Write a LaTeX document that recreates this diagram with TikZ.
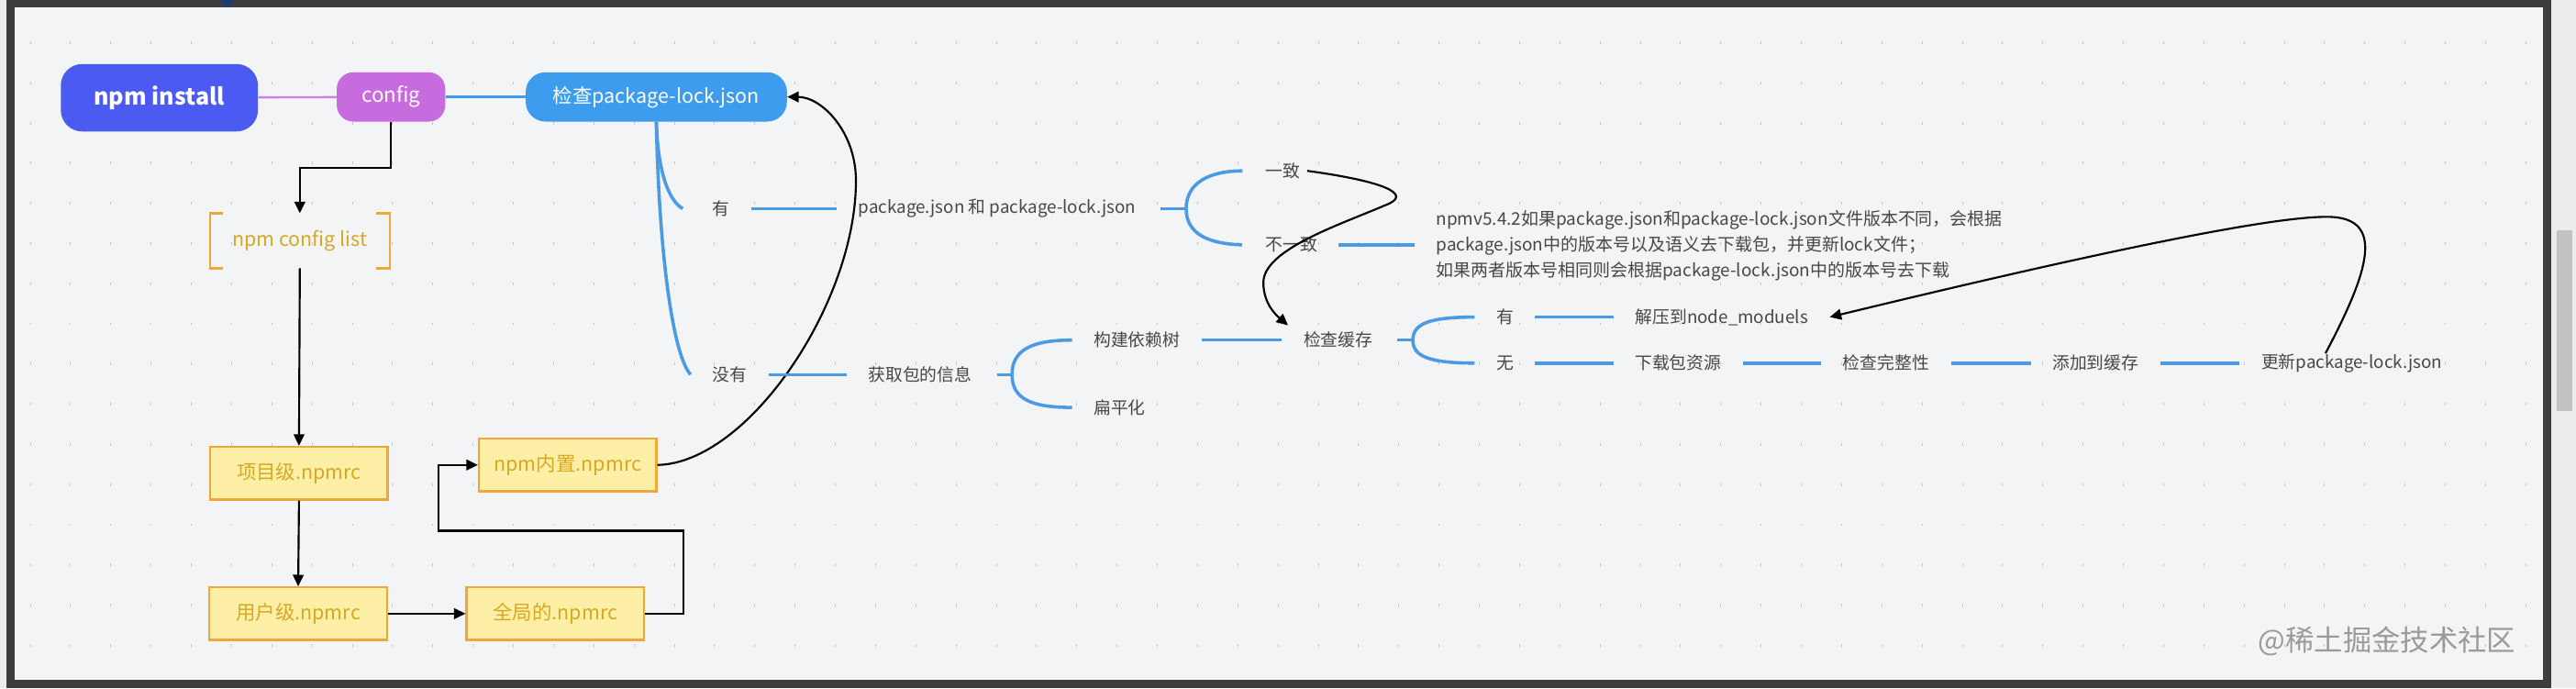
\documentclass[tikz,border=0pt]{standalone}
\usepackage{fontspec}
\setmainfont{Noto Sans CJK SC}
\usetikzlibrary{arrows.meta,calc}
\definecolor{bg}{HTML}{F3F4F6}
\definecolor{framec}{HTML}{3D3D3F}
\definecolor{outer}{HTML}{ECECEC}
\definecolor{npmblue}{HTML}{4B5BF1}
\definecolor{cfgpurple}{HTML}{C76BDE}
\definecolor{chkblue}{HTML}{3D9CEE}
\definecolor{lineblue}{HTML}{4C9BE2}
\definecolor{yfill}{HTML}{FDF0A6}
\definecolor{yborder}{HTML}{EFA73A}
\definecolor{ytext}{HTML}{D8A823}
\definecolor{txtgrey}{HTML}{474747}
\definecolor{dotgrey}{HTML}{C4C5C8}
\definecolor{thumbc}{HTML}{C2C2C2}
\definecolor{wmc}{HTML}{9A9A9A}
\definecolor{navyc}{HTML}{1F3A6E}
\tikzset{
  gtext/.style={text=txtgrey, font=\fontsize{10.5}{12}\selectfont, inner sep=0pt},
  bline/.style={draw=lineblue, line width=2pt, shorten <=13pt, shorten >=13pt},
  bcurve/.style={draw=lineblue, line width=2pt},
  ybox/.style={draw=yborder, fill=yfill, line width=1.3pt, minimum width=108pt, minimum height=32pt, text=ytext, font=\fontsize{12}{14}\selectfont, inner sep=0pt},
  conn/.style={draw=black, line width=1.2pt, -{Triangle[length=7pt,width=6.5pt]}},
  pill/.style={text=white, inner sep=0pt},
}
\begin{document}
\begin{tikzpicture}[x=1pt,y=-1pt]
\useasboundingbox (0,0) rectangle (1568,419);
% screenshot frame
\fill[outer] (0,0) rectangle (1568,419);
\fill[framec] (4,0) rectangle (1553,419);
\fill[bg] (9,4.5) rectangle (1548,413.5);
\fill[thumbc] (1556,140) rectangle (1566,250);
\fill[navyc] (138,0) circle (4);
% dot grid
\foreach \i in {0,...,62} {
  \foreach \j in {0,...,15} {
    \draw[dotgrey, line width=0.5pt] ({18.4+24.5*\i},{25.2+24.45*\j}) -- ++(0,1.6);
  }
}
% top row boxes
\node[pill, fill=npmblue, rounded corners=13pt, minimum width=120pt, minimum height=41pt, font=\fontsize{14}{17}\selectfont\bfseries] (install) at (97,59.5) {npm install};
\node[pill, fill=cfgpurple, rounded corners=10pt, minimum width=66pt, minimum height=30pt, font=\fontsize{12.5}{15}\selectfont] (config) at (238,59) {config};
\node[pill, fill=chkblue, rounded corners=12pt, minimum width=159pt, minimum height=30pt, font=\fontsize{12}{14}\selectfont] (check) at (399.5,59) {检查package-lock.json};
\draw[draw=cfgpurple!85!white, line width=1.3pt] (install) -- (config);
\draw[draw=chkblue, line width=1.6pt] (config) -- (check);

% npm config list bracket node
\node[text=ytext, font=\fontsize{12}{14}\selectfont, minimum width=109pt, minimum height=33pt, inner sep=0pt] (cfglist) at (182.5,146.5) {npm config list};
\draw[draw=yborder, line width=1.4pt] ([xshift=8pt]cfglist.north west) -- (cfglist.north west) -- (cfglist.south west) -- ([xshift=8pt]cfglist.south west);
\draw[draw=yborder, line width=1.4pt] ([xshift=-8pt]cfglist.north east) -- (cfglist.north east) -- (cfglist.south east) -- ([xshift=-8pt]cfglist.south east);

% npmrc boxes
\node[ybox] (proj) at (182,288) {项目级.npmrc};
\node[ybox] (user) at (181.5,373.5) {用户级.npmrc};
\node[ybox] (global) at (338,373.5) {全局的.npmrc};
\node[ybox] (builtin) at (345.5,283) {npm内置.npmrc};

% black connectors on the left
\coordinate (k1) at (238,102);
\draw[conn] (config.south) -- (k1) -| (cfglist.north);
\draw[conn] (cfglist.south) -- (proj.north);
\draw[conn] (proj.south) -- (user.north);
\draw[conn] (user.east) -- (global.west);
\coordinate (g1) at (416,373.5);
\coordinate (g2) at (416,323);
\coordinate (g3) at (267,323);
\coordinate (g4) at (267,283);
\draw[conn] (global.east) -- (g1) -- (g2) -- (g3) -- (g4) -- (builtin.west);
\draw[conn] (builtin.east) .. controls (455,282) and (521,185) .. (521,110) .. controls (521,80) and (500,59) .. (check.east);

% mind map text
\node[gtext] (you1) at (439,127) {有};
\node[gtext] (pkgboth) at (607,127) {package.json 和 package-lock.json};
\node[gtext] (yizhi) at (781,104) {一致};
\node[gtext] (buyizhi) at (786,149) {不一致};
\node[gtext, anchor=west, align=left, font=\fontsize{10.6}{15.5}\selectfont] (note) at (874,149.5) {npmv5.4.2如果package.json和package-lock.json文件版本不同，会根据\\package.json中的版本号以及语义去下载包，并更新lock文件；\\如果两者版本号相同则会根据package-lock.json中的版本号去下载};
\node[gtext] (meiyou) at (444,228) {没有};
\node[gtext] (getinfo) at (560,228) {获取包的信息};
\node[gtext] (buildtree) at (692,207) {构建依赖树};
\node[gtext] (flatten) at (681.5,248) {扁平化};
\node[gtext] (checkcache) at (814.5,207) {检查缓存};
\node[gtext] (you2) at (916,193) {有};
\node[gtext] (unzip) at (1048,193) {解压到node\_moduels};
\node[gtext] (wu) at (916,221) {无};
\node[gtext] (download) at (1021.5,221) {下载包资源};
\node[gtext] (integrity) at (1148,221) {检查完整性};
\node[gtext] (addcache) at (1275.5,221) {添加到缓存};
\node[gtext] (update) at (1431.5,221) {更新package-lock.json};
\node[text=wmc, font=\fontsize{17.5}{20}\selectfont, inner sep=0pt] (wm) at (1453,390) {@稀土掘金技术社区};

% blue straight links
\draw[bline] (you1) -- (pkgboth);
\draw[bline] (buyizhi) -- (note.west |- buyizhi);
\draw[bline] (meiyou) -- (getinfo);
\draw[bline] (buildtree) -- (checkcache);
\draw[bline] (you2) -- (unzip);
\draw[bline] (wu) -- (download);
\draw[bline] (download) -- (integrity);
\draw[bline] (integrity) -- (addcache);
\draw[bline] (addcache) -- (update);

% blue branch curves from check box
\draw[bcurve] (check.south) .. controls (400.5,105) and (407,122) .. ([xshift=-18pt]you1.west);
\draw[bcurve] (check.south) .. controls (401,150) and (409,215) .. ([xshift=-13pt]meiyou.west);

% bracket branches
\coordinate (v1) at (722,127);
\draw[bcurve] ([xshift=15pt]pkgboth.east) -- (v1);
\draw[bcurve] (v1) .. controls (722,112) and (735,104) .. ([xshift=-14pt]yizhi.west);
\draw[bcurve] (v1) .. controls (722,142) and (735,148.5) .. ([xshift=-14pt]buyizhi.west);
\coordinate (v2) at (616,228);
\draw[bcurve] ([xshift=15pt]getinfo.east) -- (v2);
\draw[bcurve] (v2) .. controls (616,213) and (628,207) .. ([xshift=-13pt]buildtree.west);
\draw[bcurve] (v2) .. controls (616,243) and (628,248) .. ([xshift=-13pt]flatten.west);
\coordinate (v3) at (860,207);
\draw[bcurve] ([xshift=15pt]checkcache.east) -- (v3);
\draw[bcurve] (v3) .. controls (860,197) and (870,193) .. ([xshift=-13pt]you2.west);
\draw[bcurve] (v3) .. controls (860,217) and (870,221) .. ([xshift=-13pt]wu.west);

% black curved arrows on the right
\coordinate (t1) at (784,198);
\draw[conn] ([xshift=4pt]yizhi.east) .. controls (840,110) and (862,118) .. (843,125) .. controls (815,137) and (769,152) .. (769,172) .. controls (769,185) and (777,192) .. (t1);
\draw[conn] ([xshift=-16pt]update.north) .. controls (1442,165) and (1452,133) .. (1418,132) .. controls (1380,131) and (1250,160) .. ([xshift=13pt]unzip.east);
\end{tikzpicture}
\end{document}
